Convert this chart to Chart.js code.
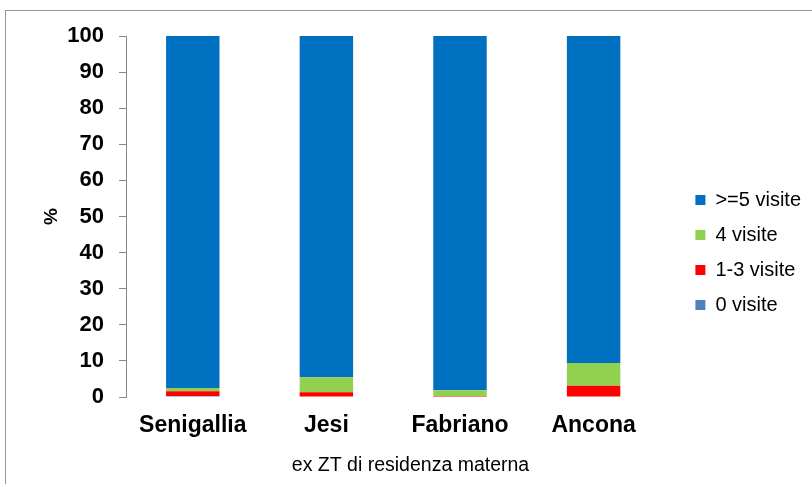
<!DOCTYPE html>
<html lang="it">
<head>
<meta charset="UTF-8">
<title>Visite in gravidanza per ex ZT di residenza materna</title>
<script src="https://cdn.jsdelivr.net/npm/chart.js@4.4.1/dist/chart.umd.min.js"></script>
<style>
    html, body { margin: 0; padding: 0; background: #ffffff; overflow: hidden; }
    .frame {
        position: absolute; left: 5px; top: 10px;
        width: 900px; height: 600px;
        border: 1px solid #969696;
    }
    .chart-container {
        position: absolute; left: 0; top: 0;
        width: 812px; height: 484px;
    }
</style>
</head>
<body>
<div class="frame"></div>
<div class="chart-container">
    <canvas id="visiteChart"></canvas>
</div>
<script>
    // --- Dati (% per ex ZT) ---
    const zone = ['Senigallia', 'Jesi', 'Fabriano', 'Ancona'];
    const visite0 = [0.3, 0.0, 0.0, 0.0];
    const visite1a3 = [1.3, 1.3, 0.3, 3.1];
    const visite4 = [0.9, 4.2, 1.6, 6.3];
    const visite5piu = [97.5, 94.5, 98.1, 90.6];

    const FONT = "'Liberation Sans', Arial, sans-serif";

    // sposta la legenda verso destra, come nell'originale
    const legendShift = {
        id: 'legendShift',
        afterLayout(chart) {
            const lg = chart.legend;
            lg.left += 20; lg.right += 20;
            lg.top -= 4; lg.bottom -= 4;
        }
    };

    const ctx = document.getElementById('visiteChart').getContext('2d');
    new Chart(ctx, {
        type: 'bar',
        data: {
            labels: zone,
            datasets: [
                { label: '0 visite', data: visite0, backgroundColor: '#4F81BD' },
                { label: '1-3 visite', data: visite1a3, backgroundColor: '#FF0000' },
                { label: '4 visite', data: visite4, backgroundColor: '#92D050' },
                { label: '>=5 visite', data: visite5piu, backgroundColor: '#0070C0' }
            ]
        },
        options: {
            responsive: true,
            maintainAspectRatio: false,
            animation: false,
            layout: { padding: { left: 30, top: 36, right: 21, bottom: 7 } },
            datasets: { bar: { barPercentage: 0.4, categoryPercentage: 1.0 } },
            scales: {
                x: {
                    stacked: true,
                    grid: { display: false },
                    border: { display: false },
                    ticks: { color: '#000', padding: 7, font: { family: FONT, size: 23, weight: 'bold' } },
                    afterFit(scale) { scale.height = 56.6; }
                },
                y: {
                    stacked: true,
                    min: 0, max: 100,
                    ticks: { stepSize: 10, color: '#000', padding: 15, font: { family: FONT, size: 22, weight: 'bold' } },
                    grid: { drawOnChartArea: false, tickLength: 7, color: '#888888' },
                    border: { color: '#888888' },
                    title: {
                        display: true, text: '%', color: '#000',
                        padding: { top: 10, bottom: 0 }, font: { family: FONT, size: 19, weight: 'bold' }
                    },
                    afterFit(scale) { scale.width = 96; }
                }
            },
            plugins: {
                title: {
                    display: true, position: 'bottom', text: 'ex ZT di residenza materna',
                    color: '#000', padding: 0, font: { family: FONT, size: 19.5, weight: 'normal' }
                },
                legend: {
                    position: 'right',
                    reverse: true,
                    labels: {
                        boxWidth: 10, boxHeight: 10, padding: 15,
                        color: '#000', font: { family: FONT, size: 20 }
                    }
                },
                tooltip: { enabled: false }
            }
        },
        plugins: [legendShift]
    });
</script>
</body>
</html>
